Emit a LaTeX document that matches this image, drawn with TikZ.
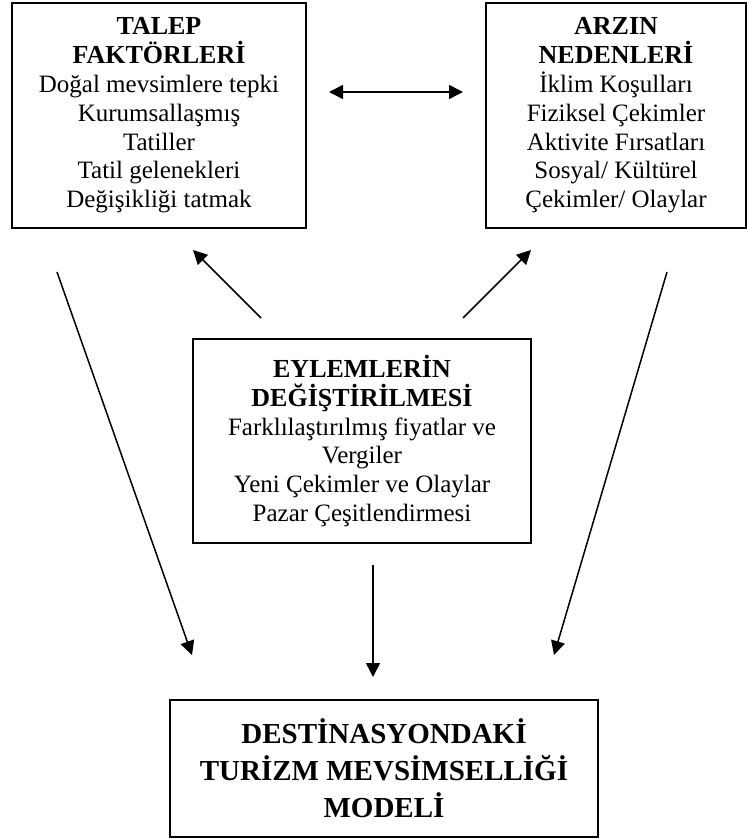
\documentclass[tikz,border=0pt]{standalone}
\usepackage{fontspec}
\setmainfont{Liberation Serif}
\usetikzlibrary{arrows.meta,positioning}
\tikzset{ucgen/.tip={Triangle[length=7pt,width=7pt]}}
\newcommand\bsl[1]{{\bfseries\fontsize{13}{14.4}\selectfont #1}}

\begin{document}
\begin{tikzpicture}[
  x=0.5pt,y=-0.5pt,
  kutu/.style={rectangle,draw=black,line width=1pt,align=center,inner sep=0pt,
    font=\fontsize{12.5}{14.4}\selectfont},
  ok/.style={-ucgen,line width=0.75pt},
  cift/.style={ucgen-ucgen,line width=0.75pt}
]
\useasboundingbox (0,0) rectangle (747,839);

\node[kutu,minimum width=147pt,minimum height=112.5pt] (talep) at (159,115.5)
  {\bsl{TALEP}\\\bsl{FAKTÖRLERİ}\\Doğal mevsimlere tepki\\Kurumsallaşmış\\Tatiller\\Tatil gelenekleri\\Değişikliği tatmak};
\node[kutu,minimum width=130pt,minimum height=112.5pt] (arz) at (616,115.5)
  {\bsl{ARZIN}\\\bsl{NEDENLERİ}\\İklim Koşulları\\Fiziksel Çekimler\\Aktivite Fırsatları\\Sosyal/ Kültürel\\Çekimler/ Olaylar};
\node[kutu,minimum width=169pt,minimum height=102pt] (eylem) at (362,441)
  {\bsl{EYLEMLERİN}\\\bsl{DEĞİŞTİRİLMESİ}\\Farklılaştırılmış fiyatlar ve\\Vergiler\\Yeni Çekimler ve Olaylar\\Pazar Çeşitlendirmesi};
\node[kutu,minimum width=214pt,minimum height=68.5pt,
  font=\fontsize{14.5}{18.5}\selectfont\bfseries] (model) at (384,768.5)
  {DESTİNASYONDAKİ\\TURİZM MEVSİMSELLİĞİ\\MODELİ};

% serbest uclar
\coordinate (ciftA) at (329,92);  \coordinate (ciftB) at (463,92);
\coordinate (usolA) at (261,318); \coordinate (usolB) at (193,250);
\coordinate (usagA) at (463,318); \coordinate (usagB) at (531,250);
\coordinate (solA) at (57,272);   \coordinate (solB) at (192,655);
\coordinate (sagA) at (667,272);  \coordinate (sagB) at (554,655);
\coordinate (ortaA) at (373,565); \coordinate (ortaB) at (373,677);

\draw[cift](ciftA)--(ciftB);
\draw[ok](usolA)--(usolB);\draw[ok](usagA)--(usagB);
\draw[ok](solA)--(solB);\draw[ok](sagA)--(sagB);
\draw[ok](ortaA)--(ortaB);
\end{tikzpicture}
\end{document}
